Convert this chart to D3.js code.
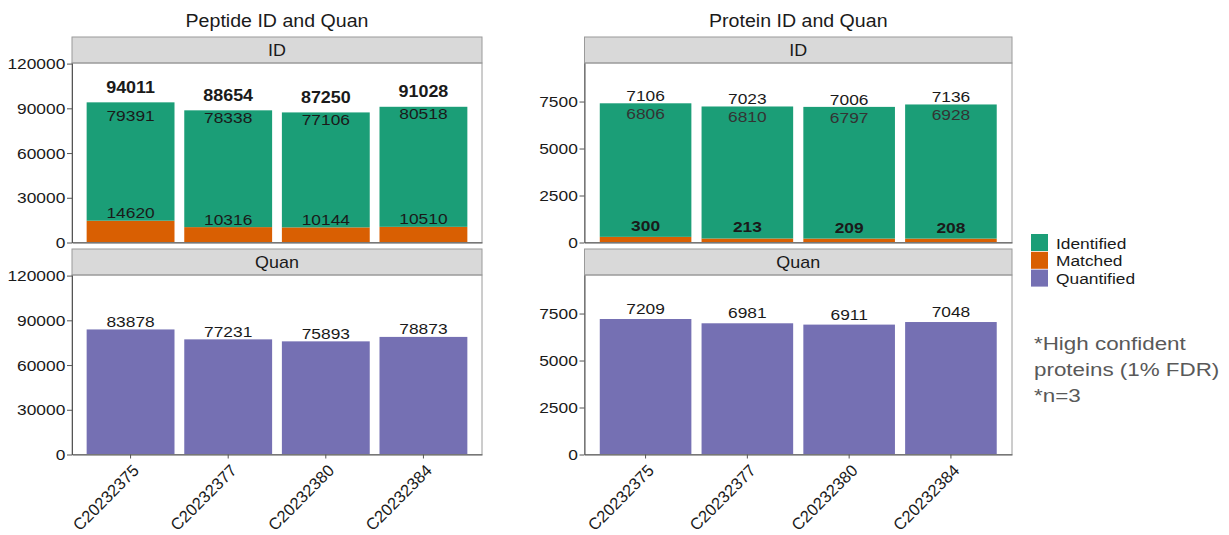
<!DOCTYPE html>
<html><head><meta charset="utf-8">
<script src="https://cdn.jsdelivr.net/npm/d3@7"></script>
<style>body{margin:0;background:#fff;} svg{display:block;font-family:"Liberation Sans",Arial,sans-serif;}</style>
</head><body><svg id="c" width="1229" height="535"></svg>
<script>
// ---- data ----
const samples = ["C20232375", "C20232377", "C20232380", "C20232384"];
const pepIdentified = [79391, 78338, 77106, 80518];
const pepMatched = [14620, 10316, 10144, 10510];
const pepTotal = [94011, 88654, 87250, 91028];
const pepQuantified = [83878, 77231, 75893, 78873];
const protIdentified = [6806, 6810, 6797, 6928];
const protMatched = [300, 213, 209, 208];
const protTotal = [7106, 7023, 7006, 7136];
const protQuantified = [7209, 6981, 6911, 7048];
const pepTicks = [0, 30000, 60000, 90000, 120000];
const protTicks = [0, 2500, 5000, 7500];
const legendItems = ["Identified", "Matched", "Quantified"];
const footnote = ["*High confident", "proteins (1% FDR)", "*n=3"];

const colors = { Identified: "#1b9e77", Matched: "#d95f02", Quantified: "#7570b3" };
const SX = 1.12;
const svg = d3.select("#c");

function txt(g, x, y, s, o = {}) {
  return g.append("text")
    .attr("transform", `translate(${x},${y}) scale(${o.sx || SX},1)` + (o.rot ? ` rotate(${o.rot})` : ""))
    .attr("text-anchor", o.anchor || "middle")
    .attr("font-size", o.size || 15)
    .attr("font-weight", o.bold ? "bold" : "normal")
    .attr("fill", o.fill || "#1a1a1a")
    .text(s);
}

const rows = {
  ID: { stripTop: 37, plotTop: 63, plotBottom: 242.5 },
  Quan: { stripTop: 249, plotTop: 275, plotBottom: 454.5 }
};

function panel(cfg) {
  const g = svg.append("g");
  const x = d3.scaleBand().domain(samples).range([cfg.x0, cfg.x1]).paddingInner(0.1).paddingOuter(0.15);
  txt(g, (cfg.x0 + cfg.x1) / 2, 26.5, cfg.title, { size: 17.5 });
  ["ID", "Quan"].forEach(rowName => {
    const r = rows[rowName];
    const y = d3.scaleLinear().domain([0, cfg.yMax]).range([r.plotBottom, r.plotTop]);
    // strip
    g.append("rect").attr("x", cfg.x0).attr("y", r.stripTop).attr("width", cfg.x1 - cfg.x0)
      .attr("height", r.plotTop - r.stripTop).attr("fill", "#d9d9d9").attr("stroke", "#9a9a9a");
    txt(g, (cfg.x0 + cfg.x1) / 2, r.plotTop - 7, rowName, { size: 16 });
    // bars
    if (rowName === "ID") {
      samples.forEach((s, i) => {
        const m = cfg.matched[i], gv = cfg.green[i];
        g.append("rect").attr("x", x(s)).attr("width", x.bandwidth())
          .attr("y", y(m)).attr("height", y(0) - y(m)).attr("fill", colors.Matched);
        g.append("rect").attr("x", x(s)).attr("width", x.bandwidth())
          .attr("y", y(m + gv)).attr("height", y(m) - y(m + gv)).attr("fill", colors.Identified);
      });
      samples.forEach((s, i) => {
        const cx = x(s) + x.bandwidth() / 2;
        const top = cfg.matched[i] + cfg.green[i];
        txt(g, cx, y(top) - cfg.totOff, cfg.total[i], { size: cfg.totSize, bold: cfg.totBold });
        const iy = cfg.identAtTop ? y(top) + cfg.identOff : y(cfg.identified[i]) + cfg.identOff;
        txt(g, cx, iy, cfg.identified[i], { size: 15.5, fill: cfg.identFill });
        txt(g, cx, y(cfg.matched[i]) - cfg.matchOff, cfg.matched[i], { size: 15.5, bold: cfg.matchBold });
      });
    } else {
      samples.forEach((s, i) => {
        const v = cfg.quan[i];
        g.append("rect").attr("x", x(s)).attr("width", x.bandwidth())
          .attr("y", y(v)).attr("height", y(0) - y(v)).attr("fill", colors.Quantified);
        txt(g, x(s) + x.bandwidth() / 2, y(v) - cfg.quanOff, v, { size: 15.5 });
      });
    }
    // border
    g.append("rect").attr("x", cfg.x0).attr("y", r.plotTop).attr("width", cfg.x1 - cfg.x0)
      .attr("height", r.plotBottom - r.plotTop).attr("fill", "none").attr("stroke", "#9a9a9a");
    // y axis
    const ya = g.append("g").attr("transform", `translate(${cfg.x0},0)`)
      .call(d3.axisLeft(y).tickValues(cfg.ticks).tickSize(5).tickSizeOuter(0).tickPadding(1).tickFormat(d3.format("d")));
    ya.select(".domain").attr("stroke", "#555");
    ya.selectAll(".tick line").attr("stroke", "#555");
    ya.selectAll(".tick text").attr("font-size", 15.5).attr("fill", "#1a1a1a")
      .attr("font-family", "Liberation Sans, Arial, sans-serif").attr("transform", `scale(${SX},1)`);
    // x axis line
    const xa = g.append("g").attr("transform", `translate(0,${r.plotBottom})`)
      .call(d3.axisBottom(x).tickSize(rowName === "Quan" ? 4 : 0).tickSizeOuter(0));
    xa.select(".domain").attr("stroke", "#555");
    xa.selectAll(".tick line").attr("stroke", "#555");
    if (rowName === "Quan") {
      xa.selectAll(".tick text").attr("x", null).attr("y", null).attr("dy", null)
        .attr("text-anchor", "end").attr("font-size", 16.5).attr("fill", "#1a1a1a")
        .attr("font-family", "Liberation Sans, Arial, sans-serif")
        .attr("transform", `translate(9.5,17) rotate(-45)`);
    } else {
      xa.selectAll(".tick text").remove();
    }
  });
}

panel({
  x0: 72, x1: 482, yMax: 120400, ticks: pepTicks, title: "Peptide ID and Quan",
  matched: pepMatched, green: pepIdentified, identified: pepIdentified, total: pepTotal, quan: pepQuantified,
  totOff: 9.5, totSize: 16, totBold: true, identAtTop: false, identOff: -3, identFill: "#1a1a1a",
  matchOff: 2.5, matchBold: false, quanOff: 2.5
});
panel({
  x0: 584.5, x1: 1012, yMax: 9550, ticks: protTicks, title: "Protein ID and Quan",
  matched: protMatched, green: protTotal, identified: protIdentified, total: protTotal, quan: protQuantified,
  totOff: 2, totSize: 15.5, totBold: false, identAtTop: true, identOff: 16, identFill: "#333",
  matchOff: 6, matchBold: true, quanOff: 5
});

// legend
const lg = svg.append("g").attr("transform", "translate(1031,234)");
legendItems.forEach((k, i) => {
  lg.append("rect").attr("x", 0).attr("y", i * 17.8).attr("width", 17).attr("height", 17).attr("fill", colors[k]);
  txt(lg, 25, i * 17.8 + 14.5, k, { anchor: "start", size: 15.5 });
});

// footnote
const fg = svg.append("g");
footnote.forEach((t, i) => {
  txt(fg, 1034, 349.5 + i * 26.2, t, { anchor: "start", size: 17.5, sx: 1.28, fill: "#595959" });
});
</script></body></html>
